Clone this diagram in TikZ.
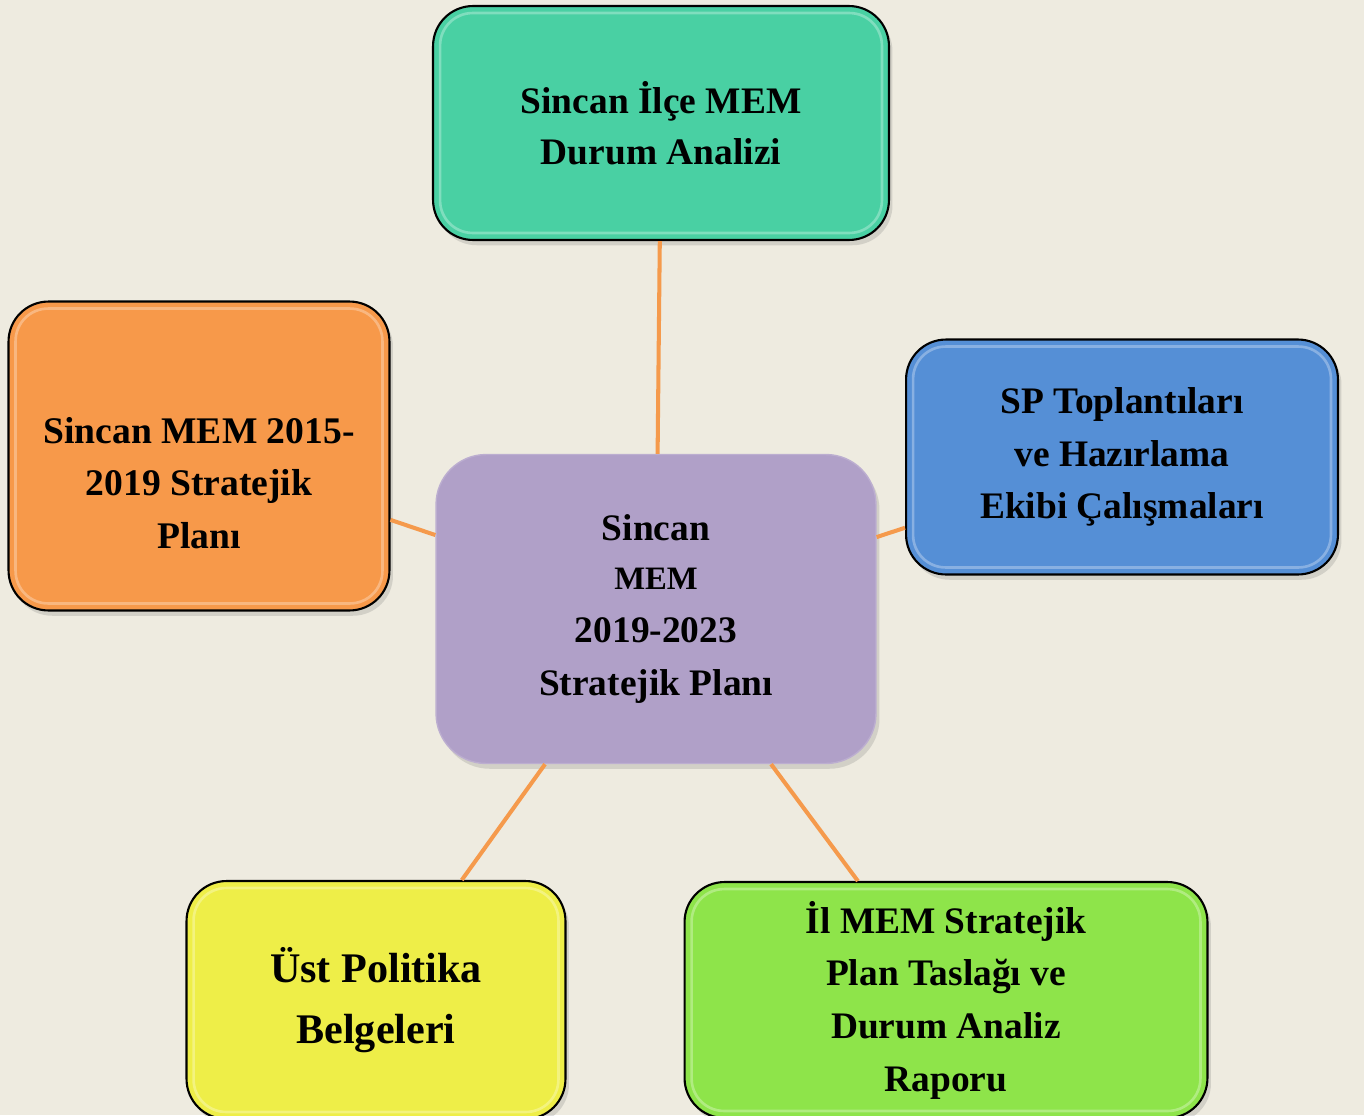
\documentclass[tikz,border=0pt]{standalone}
\usepackage{fontspec}
\setmainfont{Liberation Serif}
\usetikzlibrary{shadows}
\definecolor{arkaplan}{RGB}{238,235,224}
\definecolor{turkuaz}{RGB}{73,208,163}
\definecolor{lila}{RGB}{176,160,200}
\definecolor{turuncu}{RGB}{247,153,74}
\definecolor{mavi}{RGB}{85,143,214}
\definecolor{sari}{RGB}{238,238,72}
\definecolor{yesil}{RGB}{142,228,74}
\definecolor{cizgi}{RGB}{245,154,76}

\begin{document}
\begin{tikzpicture}[x=0.02cm,y=-0.02cm]
  \tikzstyle{kutu}=[draw=black, line width=1.2pt, rounded corners=0.8cm, align=center, inner sep=0,
    font=\bfseries\fontsize{21.3}{30}\selectfont,
    drop shadow={opacity=0.25, shadow xshift=2pt, shadow yshift=-3pt},
    path picture={\draw[white, opacity=0.3, line width=1.5pt, rounded corners=0.65cm]
      ([shift={(4pt,-4pt)}]path picture bounding box.north west) rectangle
      ([shift={(-4pt,4pt)}]path picture bounding box.south east);}];
  \tikzstyle{bag}=[draw=cizgi, line width=2.3pt];

  \fill[arkaplan] (0,0) rectangle (1364,1115);
  \useasboundingbox (0,0) rectangle (1364,1115);

  \node[kutu, fill=lila, draw=lila!85!white, line width=0.8pt, rounded corners=1cm, minimum width=8.8cm, minimum height=6.18cm,
    path picture={}] (merkez) at (656,609)
    {Sincan\\[-2pt]{\fontsize{18.6}{30}\selectfont MEM}\\2019-2023\\Stratejik Planı};
  \node[kutu, fill=turkuaz, minimum width=9.12cm, minimum height=4.68cm] (durum) at (661,123)
    {Sincan İlçe MEM\\[-1pt]Durum Analizi};
  \node[kutu, fill=turuncu, minimum width=7.62cm, minimum height=6.18cm,
    label={[font=\bfseries\fontsize{21.4}{30}\selectfont, align=center, yshift=-0.54cm]center:Sincan MEM 2015-\\2019 Stratejik\\Planı}] (eski) at (199,456) {};
  \node[kutu, fill=mavi, minimum width=8.64cm, minimum height=4.7cm] (ekip) at (1122,457)
    {SP Toplantıları\\ve Hazırlama\\Ekibi Çalışmaları};
  \node[kutu, fill=sari, minimum width=7.58cm, minimum height=4.76cm, font=\bfseries\fontsize{24}{35}\selectfont] (politika) at (376,1000)
    {Üst Politika\\Belgeleri};
  \node[kutu, fill=yesil, minimum width=10.46cm, minimum height=4.72cm] (taslak) at (946,1000)
    {İl MEM Stratejik\\Plan Taslağı ve\\Durum Analiz\\Raporu};

  \draw[bag] (merkez) -- (durum);
  \draw[bag] (merkez) -- (eski);
  \draw[bag] (merkez) -- (ekip);
  \draw[bag] (merkez) -- (politika);
  \draw[bag] (merkez) -- (taslak);
\end{tikzpicture}
\end{document}
